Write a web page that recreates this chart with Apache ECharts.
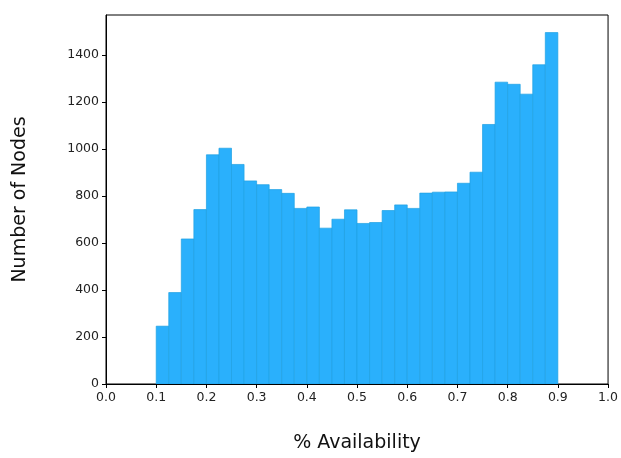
<!DOCTYPE html>
<html>
<head>
<meta charset="utf-8">
<script src="https://cdn.jsdelivr.net/npm/echarts@6/dist/echarts.min.js"></script>
<style>
  html, body { margin: 0; padding: 0; background: #fff; overflow: hidden; }
  #chart { width: 621px; height: 458px; }
</style>
</head>
<body>
<div id="chart"></div>
<script>
// Histogram of node availability: 32 bins of width 0.025 from 0.1 to 0.9
const binStart = 0.1;
const binWidth = 0.025;
const counts = [
  246, 389, 617, 742, 975, 1003, 934, 864, 848, 827,
  811, 747, 753, 663, 701, 741, 683, 687, 738, 762,
  747, 812, 816, 817, 854, 901, 1104, 1284, 1275, 1233,
  1358, 1495
];
const xTicks = [0.0, 0.1, 0.2, 0.3, 0.4, 0.5, 0.6, 0.7, 0.8, 0.9, 1.0];
const yTicks = [0, 200, 400, 600, 800, 1000, 1200, 1400];

const bins = counts.map((c, i) => {
  const lo = +(binStart + i * binWidth).toFixed(4);
  const hi = +(binStart + (i + 1) * binWidth).toFixed(4);
  return [lo, hi, c];
});

// 5% headroom above the tallest bin
const yMax = Math.max(...counts) * 1.05;
const font = 'DejaVu Sans';

const chart = echarts.init(document.getElementById('chart'), null, { renderer: 'canvas' });
chart.setOption({
  animation: false,
  backgroundColor: '#fff',
  grid: {
    left: 106, right: 11, top: 15, bottom: 68,
    show: true, borderColor: '#000', borderWidth: 1, backgroundColor: 'transparent'
  },
  xAxis: {
    type: 'value', min: 0, max: 1, interval: 0.1,
    name: '% Availability', nameLocation: 'middle', nameGap: 50,
    nameTextStyle: { fontFamily: font, fontSize: 19, color: '#111' },
    axisLine: { show: true, lineStyle: { color: '#000', width: 1 } },
    axisTick: { show: true, length: 4, lineStyle: { color: '#000' }, customValues: xTicks },
    axisLabel: {
      fontFamily: font, fontSize: 12.5, color: '#222', margin: 7,
      customValues: xTicks,
      formatter: v => v.toFixed(1)
    },
    splitLine: { show: false }
  },
  yAxis: {
    type: 'value', min: 0, max: yMax,
    name: 'Number of Nodes', nameLocation: 'middle', nameGap: 76,
    nameTextStyle: { fontFamily: font, fontSize: 19, color: '#111' },
    axisLine: { show: true, lineStyle: { color: '#000', width: 1 } },
    axisTick: { show: true, length: 4, lineStyle: { color: '#000' }, customValues: yTicks },
    axisLabel: {
      fontFamily: font, fontSize: 12.5, color: '#222', margin: 7,
      customValues: yTicks,
      formatter: v => String(Math.round(v))
    },
    splitLine: { show: false }
  },
  series: [{
    type: 'custom',
    clip: true,
    data: bins,
    encode: { x: [0, 1], y: 2 },
    renderItem: (params, api) => {
      const topLeft = api.coord([api.value(0), api.value(2)]);
      const bottomRight = api.coord([api.value(1), 0]);
      return {
        type: 'rect',
        shape: {
          x: topLeft[0], y: topLeft[1],
          width: bottomRight[0] - topLeft[0],
          height: bottomRight[1] - topLeft[1]
        },
        style: { fill: '#2ab0fc', stroke: '#1ea0e2', lineWidth: 0.7 }
      };
    }
  }]
});
</script>
</body>
</html>
